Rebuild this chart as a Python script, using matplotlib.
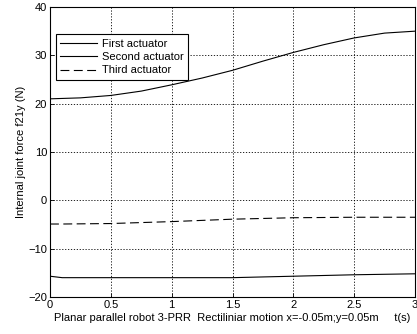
import numpy as np
import matplotlib.pyplot as plt

plt.rcParams['font.family'] = ['Liberation Sans', 'DejaVu Sans']

# Values
t = [0, 0.1, 0.5, 1.0, 1.5, 2.0, 2.5, 3.0]
second = [-15.7, -16.0, -16.0, -16.0, -16.0, -15.7, -15.4, -15.2]
third = [-4.9, -4.9, -4.8, -4.4, -3.9, -3.6, -3.5, -3.5]

# finer sampling for the first actuator
t_f = [0, 0.25, 0.5, 0.75, 1.0, 1.25, 1.5, 1.75, 2.0, 2.25, 2.5, 2.75, 3.0]
first = [21.0, 21.2, 21.7, 22.6, 23.9, 25.3, 26.9, 28.8, 30.6, 32.2, 33.6, 34.6, 35.0]

fig = plt.figure(figsize=(4.17, 3.34), dpi=100)
ax = fig.add_axes([50/417, 37/334, 365/417, 290/334])

ax.plot(t_f, first, color='black', lw=0.8, label='First actuator')
ax.plot(t, second, color='black', lw=0.8, label='Second actuator')
ax.plot(t, third, color='black', lw=0.8, ls=(0, (8, 4)), label='Third actuator')

ax.set_xlim(0, 3)
ax.set_ylim(-20, 40)
ax.set_xticks([0, 0.5, 1, 1.5, 2, 2.5, 3])
ax.set_xticklabels(['0', '0.5', '1', '1.5', '2', '2.5', '3'])
ax.set_yticks([-20, -10, 0, 10, 20, 30, 40])
ax.tick_params(labelsize=8, direction='in', length=3, width=0.6, pad=2)
ax.grid(True, color='black', ls=(0, (1.5, 2)), lw=0.6)
for s in ax.spines.values():
    s.set_linewidth(0.8)

ax.set_xlabel('Planar parallel robot 3-PRR  Rectiliniar motion x=-0.05m;y=0.05m     t(s)',
              fontsize=8, labelpad=2)
ax.set_ylabel('Internal joint force f21y (N)', fontsize=8, labelpad=2)

leg = ax.legend(loc='upper left', bbox_to_anchor=(0.0, 0.925), fontsize=8,
                fancybox=False, framealpha=1, edgecolor='black', handlelength=3.3,
                borderpad=0.4, labelspacing=0.3, handletextpad=0.5)
leg.get_frame().set_linewidth(0.8)

fig.savefig('out.png', dpi=100)
